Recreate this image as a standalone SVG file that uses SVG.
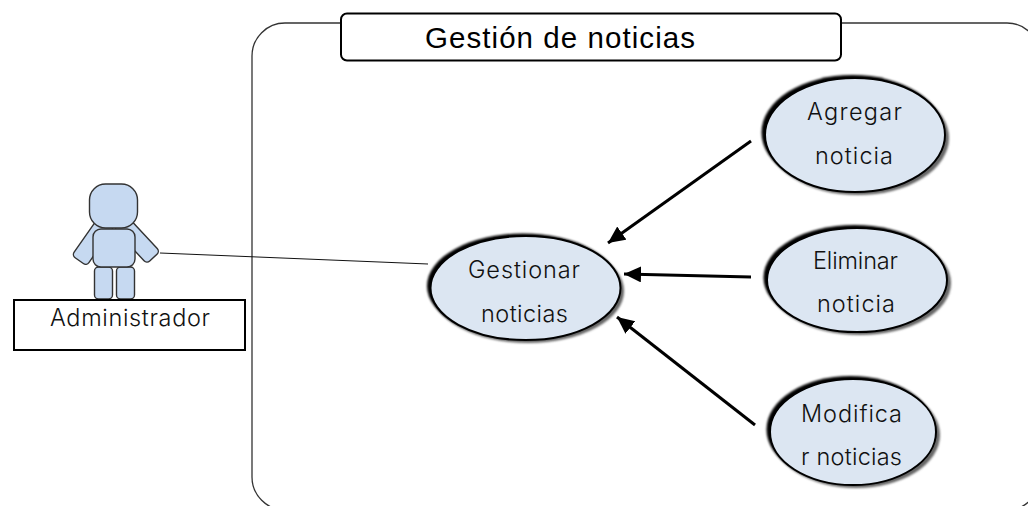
<svg xmlns="http://www.w3.org/2000/svg" width="1028" height="506" viewBox="0 0 1028 506">
<style>
.t{font-family:"Inter","Liberation Sans",sans-serif;font-size:23.500px;font-weight:300;fill:#111}
.a{fill:#c6d9f1;stroke:#333;stroke-width:1.4}
.e{fill:#dce6f2;stroke:#000;stroke-width:2}
.sd{fill:#000}
.sl{fill:#666}
.c{stroke:#000;stroke-width:3;fill:none;marker-end:url(#ah)}
</style>
<defs>
<filter id="b" x="-20%" y="-20%" width="140%" height="140%"><feGaussianBlur stdDeviation="1.3"/></filter>
<marker id="ah" markerUnits="userSpaceOnUse" markerWidth="20" markerHeight="18" refX="17" refY="8" orient="auto"><path d="M0 0L17 8L0 16Z" fill="#000"/></marker>
</defs>
<g id="sistema"><rect x="252" y="23" width="788" height="487" rx="33" ry="33" fill="#fff" stroke="#333" stroke-width="1.3"/></g>
<g id="titulo"><rect x="341" y="13.500" width="500" height="47" rx="6" fill="#fff" stroke="#000" stroke-width="2"/><text x="425" y="48" textLength="270" style="font-family:'Liberation Sans',Arial,sans-serif;font-size:29.500px;fill:#000">Gestión de noticias</text></g>
<g id="connectors">
<line x1="160" y1="253" x2="428" y2="264" stroke="#111" stroke-width="1"/>
<line class="c" x1="751" y1="141" x2="608" y2="243"/>
<line class="c" x1="751" y1="277" x2="624" y2="274"/>
<line class="c" x1="755" y1="425" x2="617" y2="317"/>
</g>
<g id="actor">
<rect class="a" x="-9" y="-24" width="18" height="48" rx="4" transform="translate(93 241) rotate(35)"/>
<rect class="a" x="-9" y="-24" width="18" height="48" rx="4" transform="translate(137 240) rotate(-43)"/>
<rect class="a" x="94.500" y="267" width="18" height="32" rx="4"/>
<rect class="a" x="116.500" y="267" width="18" height="32" rx="4"/>
<rect class="a" x="93" y="229" width="42" height="38" rx="8"/>
<rect class="a" x="89.500" y="184" width="48" height="44" rx="16"/>
</g>
<g id="administrador"><rect x="14" y="300" width="231" height="50" fill="#fff" stroke="#000" stroke-width="2"/><text class="t" x="50" y="326" textLength="160">Administrador</text></g>
<g id="gestionar">
<ellipse class="sl" cx="528" cy="291" rx="96" ry="52" filter="url(#b)"/><ellipse class="sd" cx="523" cy="286" rx="96" ry="52.500" filter="url(#b)"/>
<ellipse class="e" cx="525.500" cy="288" rx="95" ry="52"/>
<text class="t" x="468" y="278" textLength="112">Gestionar</text><text class="t" x="481" y="322" textLength="87">noticias</text></g>
<g id="agregar">
<ellipse class="sl" cx="858" cy="138" rx="91" ry="57" filter="url(#b)"/><ellipse class="sd" cx="852.500" cy="132.500" rx="91" ry="57.500" filter="url(#b)"/>
<ellipse class="e" cx="855" cy="135" rx="90" ry="57"/>
<text class="t" x="807" y="120" textLength="95">Agregar</text><text class="t" x="815" y="164" textLength="78">noticia</text></g>
<g id="eliminar">
<ellipse class="sl" cx="860" cy="283" rx="91" ry="52" filter="url(#b)"/><ellipse class="sd" cx="854.500" cy="277.500" rx="91" ry="52.500" filter="url(#b)"/>
<ellipse class="e" cx="857" cy="280" rx="90" ry="52"/>
<text class="t" x="813" y="269" textLength="85">Eliminar</text><text class="t" x="817" y="312" textLength="78">noticia</text></g>
<g id="modificar">
<ellipse class="sl" cx="856" cy="435" rx="84" ry="53" filter="url(#b)"/><ellipse class="sd" cx="850.500" cy="429.500" rx="84" ry="53.500" filter="url(#b)"/>
<ellipse class="e" cx="853" cy="432" rx="83" ry="53"/>
<text class="t" x="801" y="422" textLength="101">Modifica</text><text class="t" x="801" y="465" textLength="101">r noticias</text></g>
</svg>
